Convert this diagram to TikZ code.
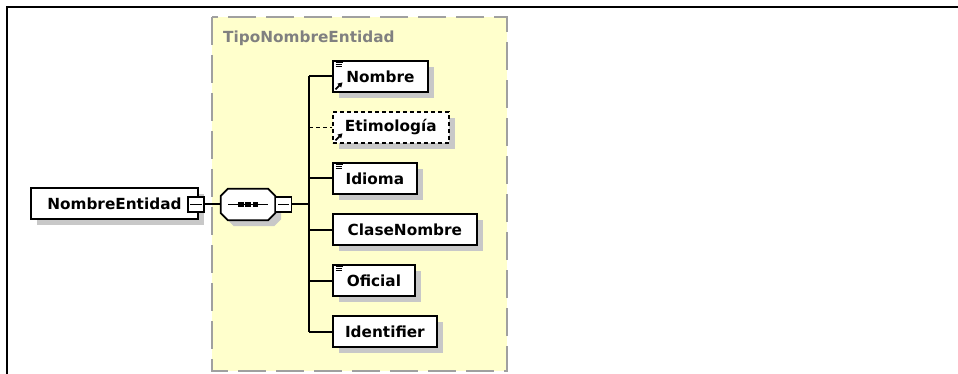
\documentclass[tikz,border=0pt]{standalone}
\usepackage{fontspec}
\setmainfont{DejaVu Sans}
\usetikzlibrary{shadows,arrows.meta}
\definecolor{ybg}{RGB}{255,255,204}
\definecolor{ybord}{RGB}{160,160,160}
\definecolor{titlegray}{RGB}{128,128,128}
\definecolor{shgray}{RGB}{200,200,200}
\tikzset{
  lbl/.style={font=\fontsize{15.3}{18}\selectfont\bfseries},
  shad/.style={drop shadow={shadow xshift=6pt,shadow yshift=-6pt,fill=shgray,opacity=1}},
  elembox/.style={lbl,draw,line width=1.8pt,fill=white,minimum height=31pt,inner sep=0pt,anchor=west,shad},
  optbox/.style={elembox,line width=1.6pt,dash pattern=on 4pt off 3pt},
  minusbox/.style={draw,line width=1.2pt,fill=white,minimum width=16pt,minimum height=15pt,inner sep=0pt},
  seqanchor/.style={minimum width=54pt,minimum height=31pt,inner sep=0pt},
  conn/.style={line width=2pt},
  optconn/.style={line width=1.6pt,dash pattern=on 4pt off 3pt},
  icon/.style={line width=1pt},
}
\newcommand{\docicon}[1]{%
  \draw[icon] ([shift={(3.5,2.5)}]#1.north west) -- ++(7,0);
  \draw[icon] ([shift={(3.5,4.5)}]#1.north west) -- ++(6,0);
  \draw[icon] ([shift={(3.5,6.5)}]#1.north west) -- ++(6,0);}
\newcommand{\refarrow}[1]{%
  \draw[line width=1.7pt,-{Triangle[length=4.5pt,width=5pt]}] ([shift={(3.5,-3.5)}]#1.south west) -- ++(7,-7);}
\begin{document}
\begin{tikzpicture}[x=1pt,y=-1pt]
\useasboundingbox (0,0) rectangle (958,374);
% outer frame
\draw[line width=2.6pt] (7,374) -- (7,7) -- (958,7);
% type region
\fill[ybg] (212,17) rectangle (507,371);
\draw[ybord,line width=2pt,dash pattern=on 28pt off 10pt] (212,17) rectangle (507,371);
\node[lbl,text=titlegray,anchor=west,inner sep=0pt] (title) at (223,38) {TipoNombreEntidad};
% root element
\node[elembox,minimum width=167pt] (root) at (30,203.5) {NombreEntidad\hspace{7pt}};
\node[minusbox] (m1) at (196,204.5) {};
\draw[line width=1.2pt] ([xshift=3pt]m1.west) -- ([xshift=-3pt]m1.east);
% sequence compositor
\node[seqanchor] (seq) at (248,204.5) {};
\draw[line width=1.8pt,fill=white,shad]
  ([shift={(7,0)}]seq.north west) -- ([shift={(-7,0)}]seq.north east) -- ([shift={(0,7)}]seq.north east)
  -- ([shift={(0,-7)}]seq.south east) -- ([shift={(-7,0)}]seq.south east) -- ([shift={(7,0)}]seq.south west)
  -- ([shift={(0,-7)}]seq.south west) -- ([shift={(0,7)}]seq.north west) -- cycle;
\draw[line width=1.6pt] ([shift={(-20,0)}]seq.center) -- ([shift={(20,0)}]seq.center);
\fill ([shift={(-10,-2.4)}]seq.center) rectangle ([shift={(-4.5,2.4)}]seq.center);
\fill ([shift={(-2.7,-2.4)}]seq.center) rectangle ([shift={(2.7,2.4)}]seq.center);
\fill ([shift={(4.5,-2.4)}]seq.center) rectangle ([shift={(10,2.4)}]seq.center);
\node[minusbox] (m2) at (283.7,204.5) {};
\draw[line width=1.2pt] ([xshift=3pt]m2.west) -- ([xshift=-3pt]m2.east);
\draw[conn] (m1.east) -- (seq.west);
\draw[conn] (seq.east) -- (m2.west);
\coordinate (bus) at (309,204.5);
\draw[conn] (m2.east) -- (bus);
% children
\node[elembox,minimum width=95pt] (nombre) at (332,76.5) {Nombre};
\node[optbox,minimum width=116pt] (etim) at (332,127.5) {Etimología};
\node[elembox,minimum width=84pt] (idioma) at (332,178.5) {Idioma};
\node[elembox,minimum width=144pt] (clase) at (332,229.5) {ClaseNombre};
\node[elembox,minimum width=82pt] (oficial) at (332,280.5) {Oficial};
\node[elembox,minimum width=104pt] (ident) at (332,331.5) {Identifier};
\draw[conn] (bus |- nombre.west) -- (bus |- ident.west);
\draw[conn] (bus |- nombre.west) -- (nombre.west);
\draw[optconn] (bus |- etim.west) -- (etim.west);
\draw[conn] (bus |- idioma.west) -- (idioma.west);
\draw[conn] (bus |- clase.west) -- (clase.west);
\draw[conn] (bus |- oficial.west) -- (oficial.west);
\draw[conn] (bus |- ident.west) -- (ident.west);
% icons
\docicon{nombre}
\docicon{idioma}
\docicon{oficial}
\refarrow{nombre}
\refarrow{etim}
\end{tikzpicture}
\end{document}
